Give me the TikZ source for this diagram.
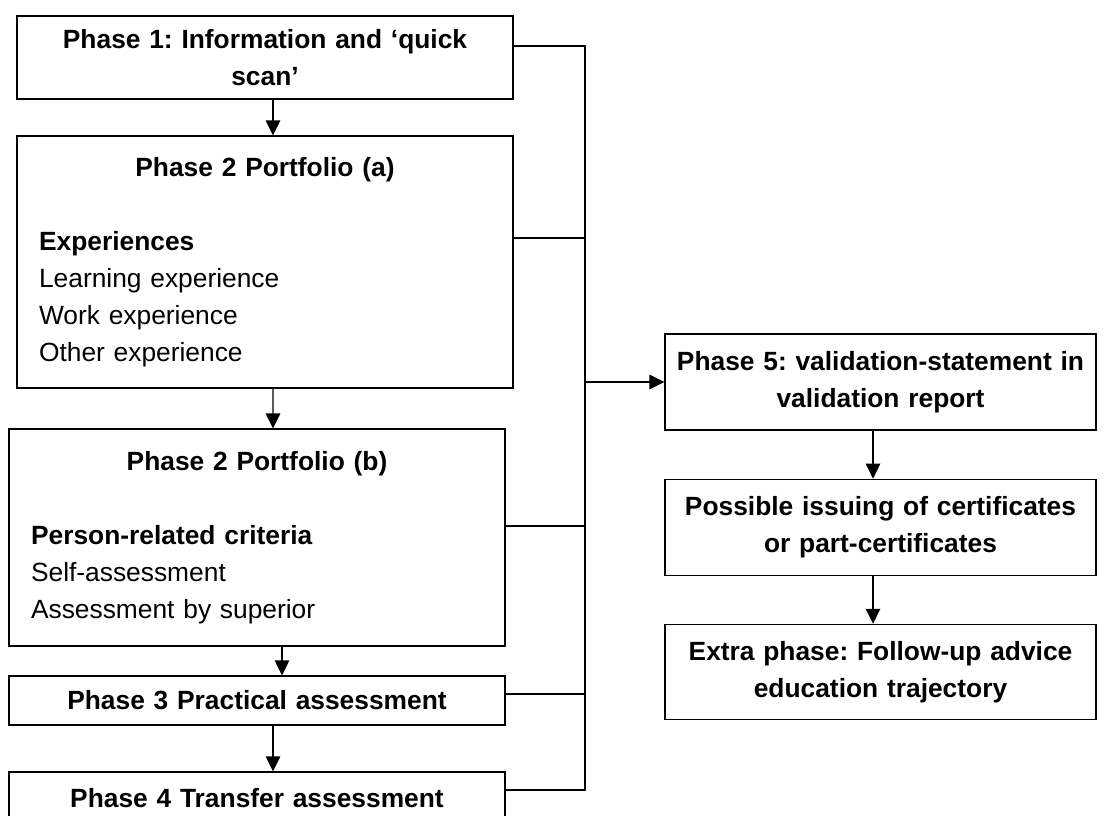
\documentclass[tikz,border=0pt]{standalone}
\usepackage{fontspec}
\setmainfont{Liberation Sans}
\frenchspacing
\usetikzlibrary{arrows.meta, positioning}

\begin{document}
\begin{tikzpicture}[
  x=0.02cm, y=-0.02cm, line width=0.7pt,
  phase/.style={draw, rectangle, align=center, font=\fontsize{15}{21}\selectfont\bfseries, inner xsep=0.1cm, inner ysep=0pt},
  leftbox/.style={phase, text width=9.72cm},
  rightbox/.style={phase, text width=8.42cm},
  listbox/.style={draw, rectangle, align=left, font=\fontsize{15}{21}\selectfont, inner xsep=0.44cm, inner ysep=0pt, text width=9.04cm},
  arrow/.style={-{Triangle[length=0.3cm, width=0.29cm]}}
]
\clip (0,0) rectangle (1104,815);

% Phases 1 to 4 (left column)
\node[leftbox, minimum height=1.66cm] (p1) at (265,57.5) {\rule{0pt}{0.4cm}Phase 1: Information and ‘quick\\scan’};
\node[listbox, minimum height=5.04cm] (p2a) at (265,262) {\hfill\textbf{Phase 2 Portfolio (a)}\hfill\null\\[0.74cm]
  \textbf{Experiences}\\Learning experience\\Work experience\\Other experience};
\node[listbox, minimum height=4.34cm] (p2b) at (257,537.5) {\hfill\textbf{Phase 2 Portfolio (b)}\hfill\null\\[0.74cm]
  \textbf{Person-related criteria}\\Self-assessment\\Assessment by superior};
\node[leftbox, minimum height=0.98cm] (p3) at (257,700.5) {Phase 3 Practical assessment};
\node[leftbox, minimum height=1.04cm] (p4) at (257,798) {Phase 4 Transfer assessment};

% Phase 5 and after (right column)
\node[rightbox, minimum height=1.92cm] (p5) at (880.5,382) {Phase 5: validation-statement in\\validation report};
\node[rightbox, minimum height=1.92cm, below=0.96cm of p5] (cert) {Possible issuing of certificates\\or part-certificates};
\node[rightbox, minimum height=1.9cm, below=0.96cm of cert] (extra) {Extra phase: Follow-up advice\\education trajectory};

% Order of the phases
\draw[arrow] ([xshift=0.16cm]p1.south) -- ([xshift=0.16cm]p2a.north);
\draw[arrow] ([xshift=0.16cm]p2a.south) -- ([xshift=0.32cm]p2b.north);
\draw[arrow] ([xshift=0.5cm]p2b.south) -- ([xshift=0.5cm]p3.north);
\draw[arrow] ([xshift=0.32cm]p3.south) -- ([xshift=0.32cm]p4.north);
\draw[arrow] ([xshift=-0.15cm]p5.south) -- ([xshift=-0.15cm]cert.north);
\draw[arrow] ([xshift=-0.15cm]cert.south) -- ([xshift=-0.15cm]extra.north);

% Collecting line to phase 5
\coordinate (b1) at (585,46);
\coordinate (b2) at (585,238);
\coordinate (b3) at (585,526);
\coordinate (b4) at (585,694);
\coordinate (b5) at (585,790);
\coordinate (bin) at (585,382);
\draw (b1 -| p1.east) -- (b1) -- (b5) -- (b5 -| p4.east);
\draw (b2 -| p2a.east) -- (b2);
\draw (b3 -| p2b.east) -- (b3);
\draw (b4 -| p3.east) -- (b4);
\draw[arrow] (bin) -- (p5.west);

\end{tikzpicture}
\end{document}
